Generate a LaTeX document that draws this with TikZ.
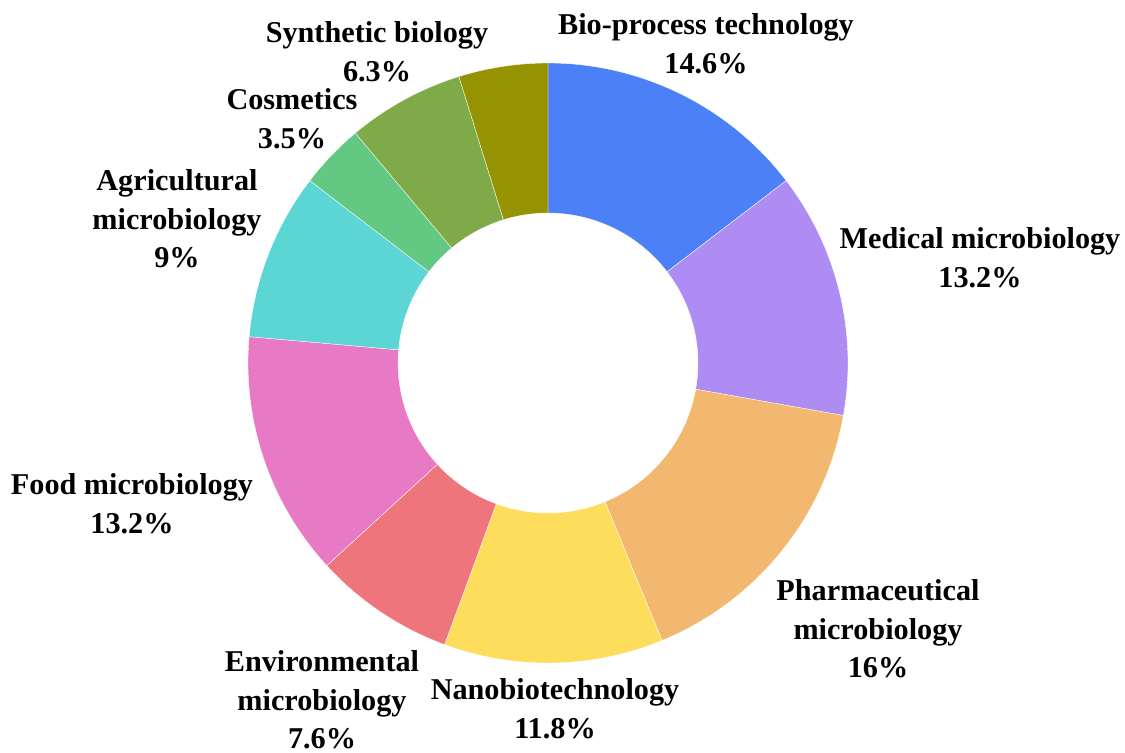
\documentclass[tikz,border=0pt]{standalone}
\usepackage{fontspec}
\setmainfont{Liberation Serif}
\usepackage{tikz}
\usetikzlibrary{positioning}
\definecolor{biocolor}{RGB}{76, 128, 246}
\definecolor{medcolor}{RGB}{174, 140, 244}
\definecolor{pharmacolor}{RGB}{242, 184, 112}
\definecolor{nanocolor}{RGB}{254, 220, 92}
\definecolor{envcolor}{RGB}{239, 117, 124}
\definecolor{foodcolor}{RGB}{232, 121, 196}
\definecolor{agricolor}{RGB}{92, 213, 213}
\definecolor{cosmcolor}{RGB}{98, 200, 130}
\definecolor{syncolor}{RGB}{126, 170, 72}
\definecolor{othercolor}{RGB}{150, 147, 3}
\tikzset{
    slice label/.style={align=center, inner sep=0pt, font=\fontsize{17.2}{22}\selectfont\bfseries},
    slice edge/.style={draw=white, line width=0.2pt}
}

\begin{document}
\begin{tikzpicture}[x=0.02cm, y=0.02cm]
    \useasboundingbox (-548,-390) rectangle (577,363);

    % Slices (clockwise from the top)
    \fill[biocolor, slice edge] (90:300) arc[start angle=90, end angle=37.44, radius=300] -- (37.44:150) arc[start angle=37.44, end angle=90, radius=150] -- cycle;
    \fill[medcolor, slice edge] (37.44:300) arc[start angle=37.44, end angle=-10.08, radius=300] -- (-10.08:150) arc[start angle=-10.08, end angle=37.44, radius=150] -- cycle;
    \fill[pharmacolor, slice edge] (-10.08:300) arc[start angle=-10.08, end angle=-67.68, radius=300] -- (-67.68:150) arc[start angle=-67.68, end angle=-10.08, radius=150] -- cycle;
    \fill[nanocolor, slice edge] (-67.68:300) arc[start angle=-67.68, end angle=-110.16, radius=300] -- (-110.16:150) arc[start angle=-110.16, end angle=-67.68, radius=150] -- cycle;
    \fill[envcolor, slice edge] (-110.16:300) arc[start angle=-110.16, end angle=-137.52, radius=300] -- (-137.52:150) arc[start angle=-137.52, end angle=-110.16, radius=150] -- cycle;
    \fill[foodcolor, slice edge] (-137.52:300) arc[start angle=-137.52, end angle=-185.04, radius=300] -- (-185.04:150) arc[start angle=-185.04, end angle=-137.52, radius=150] -- cycle;
    \fill[agricolor, slice edge] (-185.04:300) arc[start angle=-185.04, end angle=-217.44, radius=300] -- (-217.44:150) arc[start angle=-217.44, end angle=-185.04, radius=150] -- cycle;
    \fill[cosmcolor, slice edge] (-217.44:300) arc[start angle=-217.44, end angle=-230.04, radius=300] -- (-230.04:150) arc[start angle=-230.04, end angle=-217.44, radius=150] -- cycle;
    \fill[syncolor, slice edge] (-230.04:300) arc[start angle=-230.04, end angle=-252.72, radius=300] -- (-252.72:150) arc[start angle=-252.72, end angle=-230.04, radius=150] -- cycle;
    \fill[othercolor, slice edge] (-252.72:300) arc[start angle=-252.72, end angle=-270, radius=300] -- (-270:150) arc[start angle=-270, end angle=-252.72, radius=150] -- cycle;

    % Labels
    \node[slice label] (bio) at (158,319) {Bio-process technology\\14.6\%};
    \node[slice label] (med) at (432,105) {Medical microbiology\\13.2\%};
    \node[slice label] (pharma) at (330,-266) {Pharmaceutical\\microbiology\\16\%};
    \node[slice label] (nano) at (7,-346) {Nanobiotechnology\\11.8\%};
    \node[slice label] (env) at (-226,-337) {Environmental\\microbiology\\7.6\%};
    \node[slice label] (food) at (-416,-141) {Food microbiology\\13.2\%};
    \node[slice label] (agri) at (-371,144) {Agricultural\\microbiology\\9\%};
    \node[slice label] (cosm) at (-256,244) {Cosmetics\\3.5\%};
    \node[slice label] (syn) at (-171,311) {Synthetic biology\\6.3\%};
\end{tikzpicture}
\end{document}
